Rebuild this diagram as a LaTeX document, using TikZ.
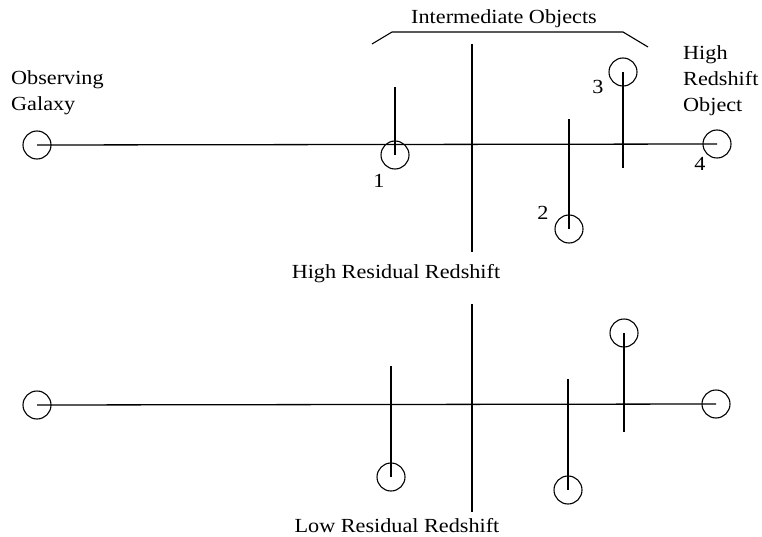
\documentclass[tikz,border=0pt]{standalone}
\usepackage{fontspec}
\setmainfont{Liberation Serif}[FakeStretch=1.11]
\begin{document}
\begin{tikzpicture}[x=1pt,y=-1pt,
  obj/.style={circle,draw,line width=1.1pt,minimum size=28pt,inner sep=0pt},
  axis/.style={line width=1.3pt},
  lbl/.style={font=\fontsize{20}{26}\selectfont,inner sep=0pt},
  num/.style={font=\fontsize{20}{26}\selectfont,inner sep=0pt}]
\useasboundingbox[fill=white] (0,0) rectangle (762,537);

% ---------- upper line of sight: high residual redshift ----------
\node[obj] (obsA) at (37,145) {};
\node[obj] (hzA) at (717,144) {};
\draw[axis] (obsA.center) -- (hzA.center);

\coordinate (midAtop) at (472,44);
\coordinate (midAbot) at (472,252);
\draw[axis] (midAtop) -- (midAbot);

\node[obj] (oA1) at (395,155) {};
\coordinate (oA1top) at (395,87);
\draw[axis] (oA1top) -- (oA1.center);

\node[obj] (oA2) at (569,229) {};
\coordinate (oA2top) at (569,119);
\draw[axis] (oA2top) -- (oA2.center);

\node[obj] (oA3) at (623,72) {};
\coordinate (oA3bot) at (623,168);
\draw[axis] (oA3.center) -- (oA3bot);

\node[num] (n1) at (379,181) {1};
\node[num] (n2) at (543,213) {2};
\node[num] (n3) at (598,87) {3};
\node[num] (n4) at (700,164) {4};

% bracket over the intermediate objects
\coordinate (brL) at (372,44);
\coordinate (brL2) at (392,32);
\coordinate (brR2) at (623,32);
\coordinate (brR) at (648,47);
\draw[line width=1.1pt] (brL) -- (brL2) -- (brR2) -- (brR);
\node[lbl,anchor=base] (inter) at (504,24) {Intermediate Objects};

% multi-line labels: the base anchor sits on the last line
\node[lbl,anchor=base west,align=left] (obsLbl) at (11,111) {Observing\\Galaxy};
\node[lbl,anchor=base west,align=left] (hzLbl) at (683,112) {High\\Redshift\\Object};
\node[lbl,anchor=base] (highLbl) at (396,278) {High Residual Redshift};

% ---------- lower line of sight: low residual redshift ----------
\node[obj] (obsB) at (37,405) {};
\node[obj] (hzB) at (716,404) {};
\draw[axis] (obsB.center) -- (hzB.center);

\coordinate (midBtop) at (472,304);
\coordinate (midBbot) at (472,512);
\draw[axis] (midBtop) -- (midBbot);

\node[obj] (oB1) at (391,477) {};
\coordinate (oB1top) at (391,366);
\draw[axis] (oB1top) -- (oB1.center);

\node[obj] (oB2) at (568,490) {};
\coordinate (oB2top) at (568,379);
\draw[axis] (oB2top) -- (oB2.center);

\node[obj] (oB3) at (624,333) {};
\coordinate (oB3bot) at (624,432);
\draw[axis] (oB3.center) -- (oB3bot);

\node[lbl,anchor=base] (lowLbl) at (397,532) {Low Residual Redshift};
\end{tikzpicture}
\end{document}
